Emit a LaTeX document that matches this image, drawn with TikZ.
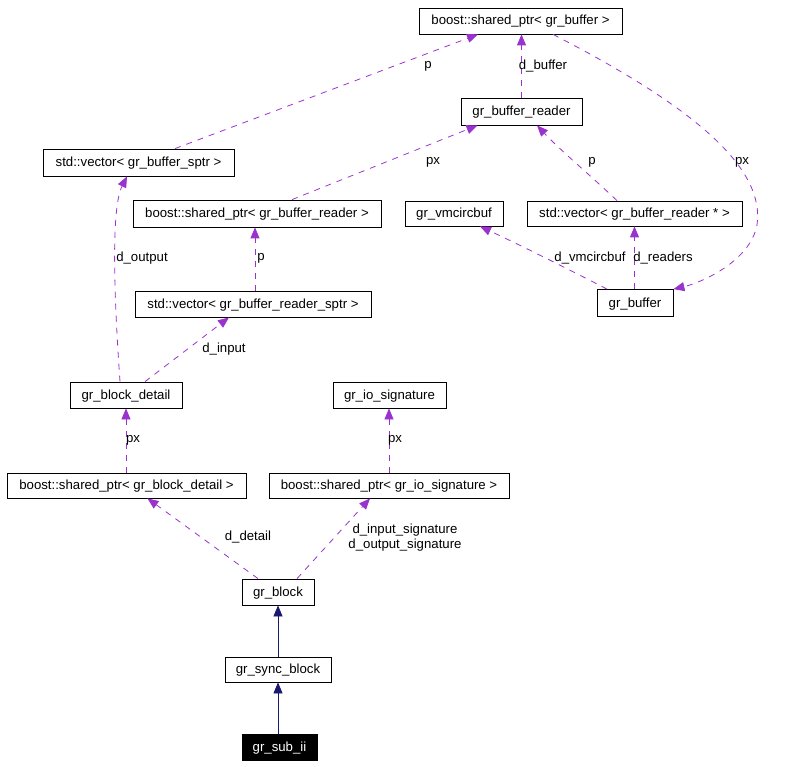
\documentclass[tikz,border=0pt]{standalone}
\usepackage{fontspec}
\setmainfont{Liberation Sans}
\usetikzlibrary{arrows.meta}
\definecolor{edgepurple}{HTML}{9A32CD}
\definecolor{inhnavy}{HTML}{191970}
\tikzset{
  cls/.style={draw=black, line width=0.8pt, fill=white, inner sep=0pt, text height=10pt, text depth=2pt, font=\fontsize{13.2}{15}\selectfont, anchor=center},
  usage/.style={draw=edgepurple, line width=0.8pt, dash pattern=on 6pt off 6pt, -{Triangle[length=11pt,width=9pt]}, shorten >=0pt},
  inh/.style={draw=inhnavy, line width=0.8pt, -{Triangle[length=11pt,width=9pt]}},
  lbl/.style={inner sep=0pt, font=\fontsize{13.2}{15}\selectfont, anchor=center},
}
\begin{document}
\begin{tikzpicture}[x=1pt,y=-1pt]
\useasboundingbox (0,0) rectangle (800,767);
% nodes
\node[cls, minimum width=203pt, minimum height=26pt] (sbuf) at (520.5,21) {boost::shared\_ptr< gr\_buffer >};
\node[cls, minimum width=121pt, minimum height=27pt] (bufreader) at (521.5,111.5) {gr\_buffer\_reader};
\node[cls, minimum width=191pt, minimum height=27pt] (vsptr) at (138.5,162.5) {std::vector< gr\_buffer\_sptr >};
\node[cls, minimum width=248pt, minimum height=27pt] (sbufreader) at (257,213.5) {boost::shared\_ptr< gr\_buffer\_reader >};
\node[cls, minimum width=236pt, minimum height=26pt] (vrsptr) at (253,304) {std::vector< gr\_buffer\_reader\_sptr >};
\node[cls, minimum width=98pt, minimum height=25pt] (vmcirc) at (454,213.5) {gr\_vmcircbuf};
\node[cls, minimum width=215pt, minimum height=25pt] (vreader) at (634.5,213.5) {std::vector< gr\_buffer\_reader * >};
\node[cls, minimum width=76pt, minimum height=27pt] (buffer) at (635,303) {gr\_buffer};
\node[cls, minimum width=112pt, minimum height=26pt] (detail) at (126,395) {gr\_block\_detail};
\node[cls, minimum width=113pt, minimum height=26pt] (iosig) at (389.5,395) {gr\_io\_signature};
\node[cls, minimum width=239pt, minimum height=25pt] (sdetail) at (126.5,485.5) {boost::shared\_ptr< gr\_block\_detail >};
\node[cls, minimum width=240pt, minimum height=25pt] (siosig) at (389,485.5) {boost::shared\_ptr< gr\_io\_signature >};
\node[cls, minimum width=72pt, minimum height=26pt] (block) at (278,592) {gr\_block};
\node[cls, minimum width=106pt, minimum height=25pt] (sync) at (278,669.5) {gr\_sync\_block};
\node[cls, fill=black, text=white, minimum width=75pt, minimum height=26pt] (sub) at (279.5,747) {gr\_sub\_ii};
% usage edges
\draw[usage] ([xshift=36.5]vsptr.north) -- ([xshift=-42.5]sbuf.south);
\draw[usage] (bufreader.north) -- ([xshift=1]sbuf.south);
\draw[usage] ([xshift=32.5]sbuf.south) .. controls (700,110) and (765,170) .. (757,225) .. controls (750,262) and (700,283) .. (buffer.north east);
\draw[usage] ([xshift=35]sbufreader.north) -- ([xshift=-44]bufreader.south);
\draw[usage] ([xshift=-17.5]vreader.north) .. controls (590,175) and (560,150) .. ([xshift=15.5]bufreader.south);
\draw[usage] ([xshift=-6]detail.north) .. controls (115,310) and (110,210) .. ([xshift=-11.5]vsptr.south);
\draw[usage] ([xshift=2]vrsptr.north) -- ([xshift=-2]sbufreader.south);
\draw[usage] ([xshift=19]detail.north) -- ([xshift=-24]vrsptr.south);
\draw[usage] ([xshift=-28]buffer.north) .. controls (570,270) and (520,245) .. ([xshift=26]vmcirc.south);
\draw[usage] ([xshift=-0.5]buffer.north) -- (vreader.south);
\draw[usage] ([xshift=-0.5]sdetail.north) -- (detail.south);
\draw[usage] (siosig.north) -- ([xshift=-0.5]iosig.south);
\draw[usage] ([xshift=-20]block.north) -- ([xshift=21]sdetail.south);
\draw[usage] ([xshift=19]block.north) -- ([xshift=-19]siosig.south);
% inheritance
\draw[inh] (sync.north) -- (block.south);
\draw[inh] ([xshift=-1.5]sub.north) -- (sync.south);
% labels
\node[lbl] (l1) at (428,66) {p};
\node[lbl] (l2) at (543,66) {d\_buffer};
\node[lbl] (l3) at (742,162) {px};
\node[lbl] (l4) at (433,162) {px};
\node[lbl] (l5) at (592,162) {p};
\node[lbl] (l6) at (142,258) {d\_output};
\node[lbl] (l7) at (261,258) {p};
\node[lbl] (l8) at (224,349) {d\_input};
\node[lbl] (l9) at (590,258) {d\_vmcircbuf};
\node[lbl] (l10) at (663,258) {d\_readers};
\node[lbl] (l11) at (133,440) {px};
\node[lbl] (l12) at (395,440) {px};
\node[lbl] (l13) at (248,537) {d\_detail};
\node[lbl, align=center] (l14) at (405,538) {d\_input\_signature\\d\_output\_signature};
\end{tikzpicture}
\end{document}
